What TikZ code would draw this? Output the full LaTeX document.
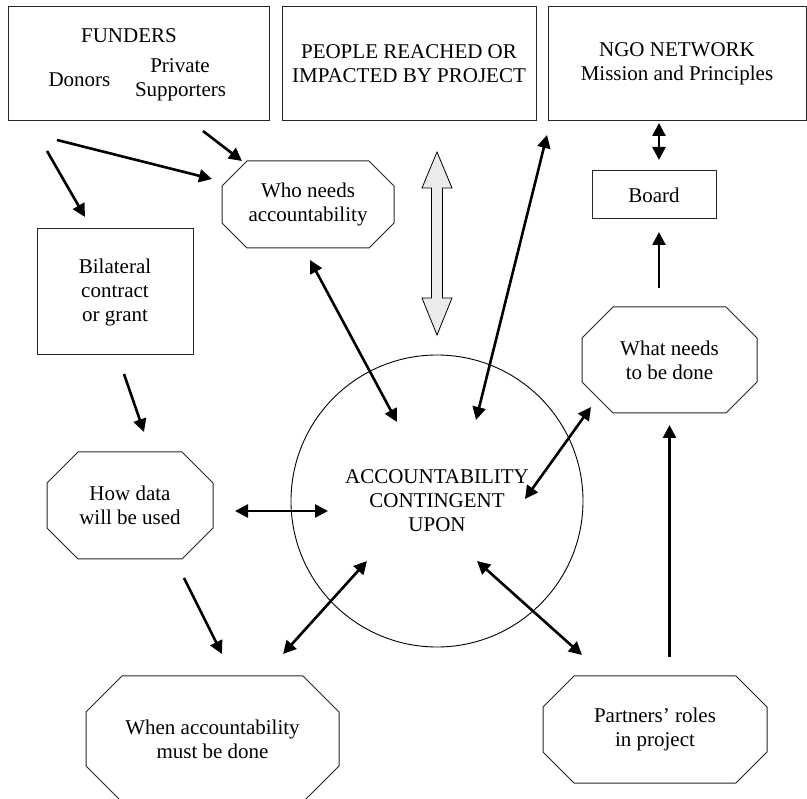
\documentclass[tikz,border=0pt]{standalone}
\usepackage{fontspec}
\setmainfont{Liberation Serif}
\usetikzlibrary{arrows.meta,calc}
\tikzset{
  boxnode/.style={draw=black!85, line width=1pt, rectangle, inner sep=0pt, outer sep=0pt, align=center,
    font=\fontsize{21}{24}\selectfont},
  octnode/.style={rectangle, inner sep=0pt, outer sep=0pt, align=center,
    font=\fontsize{21}{24}\selectfont},
  octline/.style={draw=black!85, line width=1pt, line join=miter},
  txt/.style={inner sep=0pt, outer sep=0pt, anchor=base, font=\fontsize{21}{24}\selectfont},
  arr/.style={line width=2.6pt, -{Triangle[length=13pt,width=13pt]}},
  darr/.style={line width=2.6pt, {Triangle[length=13pt,width=13pt]}-{Triangle[length=13pt,width=13pt]}},
  circnode/.style={circle, draw=black, line width=0.9pt, inner sep=0pt, outer sep=0pt, align=center,
    font=\fontsize{21}{24}\selectfont},
}
\newcommand\octagonof[2]{%
  \draw[octline] ([xshift=#2]#1.north west) -- ([xshift=-#2]#1.north east)
    -- ([yshift=-#2]#1.north east) -- ([yshift=#2]#1.south east)
    -- ([xshift=-#2]#1.south east) -- ([xshift=#2]#1.south west)
    -- ([yshift=#2]#1.south west) -- ([yshift=-#2]#1.north west) -- cycle;}
\begin{document}
\begin{tikzpicture}[x=1pt,y=-1pt]
\useasboundingbox (0,0) rectangle (807,799);
% top boxes
\node[boxnode, minimum width=261pt, minimum height=114pt] (funders) at (138.5,64) {};
\node[txt] (fundt) at (129,43) {FUNDERS};
\node[txt] (donors) at (79.5,87) {Donors};
\node[txt] (private) at (180,73) {Private};
\node[txt] (supp) at (180.5,97) {Supporters};
\node[boxnode, minimum width=254pt, minimum height=114pt] (people) at (409,64) {PEOPLE REACHED OR\\IMPACTED BY PROJECT};
\node[boxnode, minimum width=258pt, minimum height=114pt] (ngo) at (677,64) {NGO NETWORK\\Mission and Principles};
\node[boxnode, minimum width=124pt, minimum height=48pt] (board) at (654,195) {Board};
\node[boxnode, minimum width=156pt, minimum height=126pt] (bil) at (115,292) {Bilateral\\contract\\or grant};
% octagons
\node[octnode, minimum width=172pt, minimum height=87pt] (who) at (308,204.5) {Who needs\\accountability};
\octagonof{who}{25pt}
\node[octnode, minimum width=166pt, minimum height=107pt] (how) at (130,505.5) {How data\\will be used};
\octagonof{how}{31pt}
\node[octnode, minimum width=253pt, minimum height=126pt] (when) at (212.5,739) {When accountability\\must be done};
\octagonof{when}{36pt}
\node[octnode, minimum width=224pt, minimum height=107pt] (part) at (655,729.5) {Partners’ roles\\in project};
\octagonof{part}{31pt}
\node[octnode, minimum width=175pt, minimum height=106pt] (what) at (669.5,360) {What needs\\to be done};
\octagonof{what}{31pt}
% circle
\node[circnode, minimum size=292pt] (circ) at (437,501) {ACCOUNTABILITY\\CONTINGENT\\UPON};
% gray double arrow
\draw[line width=0.8pt, fill=black!8, line join=miter]
  (437,152) -- (452,188) -- (442.5,188) -- (442.5,298) -- (452,298) -- (437,335)
  -- (422,298) -- (431.5,298) -- (431.5,188) -- (422,188) -- cycle;
% connector end points
\coordinate (f1s) at (203,131); \coordinate (f1e) at (242,161);
\coordinate (f2s) at (57,140);  \coordinate (f2e) at (212,179);
\coordinate (f3s) at (47,151);  \coordinate (f3e) at (85,217);
\coordinate (b1s) at (124,374); \coordinate (b1e) at (144,432);
\coordinate (w1s) at (310,260); \coordinate (w1e) at (397,422);
\coordinate (n1s) at (547,135); \coordinate (n1e) at (476,420);
\coordinate (g1s) at (659,123); \coordinate (g1e) at (659,160);
\coordinate (g2s) at (659,288); \coordinate (g2e) at (659,232);
\coordinate (h1s) at (235,511); \coordinate (h1e) at (328,511);
\coordinate (h2s) at (184,578); \coordinate (h2e) at (222,654);
\coordinate (c1s) at (283,654); \coordinate (c1e) at (367,561);
\coordinate (c2s) at (477,561); \coordinate (c2e) at (582,655);
\coordinate (c3s) at (525,499); \coordinate (c3e) at (591,407);
\coordinate (p1s) at (669.5,657); \coordinate (p1e) at (669.5,425);
% connectors
\draw[arr] (f1s) -- (f1e);
\draw[arr] (f2s) -- (f2e);
\draw[arr] (f3s) -- (f3e);
\draw[arr] (b1s) -- (b1e);
\draw[darr] (w1s) -- (w1e);
\draw[darr] (n1s) -- (n1e);
\draw[darr] (g1s) -- (g1e);
\draw[arr] (g2s) -- (g2e);
\draw[darr] (h1s) -- (h1e);
\draw[arr] (h2s) -- (h2e);
\draw[darr] (c1s) -- (c1e);
\draw[darr] (c2s) -- (c2e);
\draw[darr] (c3s) -- (c3e);
\draw[arr] (p1s) -- (p1e);
\end{tikzpicture}
\end{document}
